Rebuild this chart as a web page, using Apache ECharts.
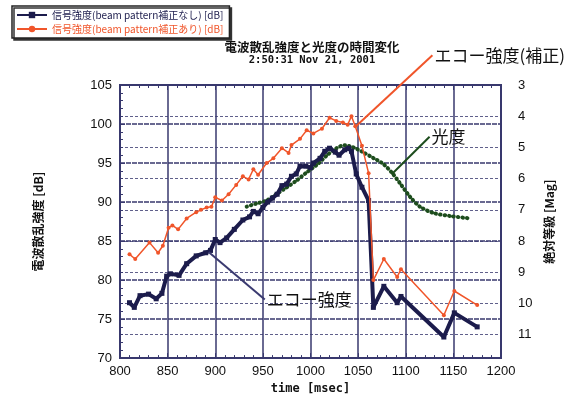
<!DOCTYPE html>
<html>
<head>
<meta charset="utf-8">
<script src="https://cdn.jsdelivr.net/npm/echarts@6/dist/echarts.min.js"></script>
<style>
  html, body {margin: 0; padding: 0; background: #fff;}
  #main {width: 568px; height: 400px;}
</style>
</head>
<body>
<div id="main"></div>
<script>
// 信号強度 (beam pattern補正なし)
const navyTime = [810, 815, 821, 830, 838, 844, 849, 853, 862, 870, 880, 890, 895, 900, 905, 912, 920, 929, 936, 940, 945, 950, 955, 960, 965, 970, 975, 980, 985, 989, 995, 1000, 1003, 1010, 1015, 1020, 1026, 1030, 1036, 1040, 1043, 1048, 1054, 1061, 1066, 1077, 1091, 1095, 1140, 1151, 1175]
const navyDb = [77.1, 76.5, 78.0, 78.2, 77.6, 78.3, 80.5, 80.8, 80.6, 82.1, 83.1, 83.5, 83.8, 85.2, 84.8, 85.4, 86.5, 87.7, 88.1, 88.8, 88.5, 89.3, 90.0, 90.5, 91.0, 92.1, 92.3, 93.3, 93.6, 94.6, 94.6, 94.4, 95.0, 95.6, 96.5, 96.9, 96.4, 96.0, 96.7, 96.9, 96.5, 93.6, 91.9, 90.2, 76.5, 79.2, 77.1, 77.9, 72.7, 75.8, 74.0]

// 信号強度 (beam pattern補正あり)
const redTime = [810, 816, 831, 840, 845, 851, 855, 861, 870, 880, 885, 891, 896, 900, 907, 914, 922, 929, 935, 940, 945, 954, 961, 970, 977, 980, 989, 996, 1003, 1012, 1020, 1027, 1034, 1039, 1043, 1047, 1054, 1061, 1066, 1077, 1091, 1095, 1140, 1151, 1175]
const redDb = [83.3, 82.7, 84.8, 83.5, 84.4, 86.7, 87.0, 86.5, 87.9, 88.7, 89.0, 89.3, 89.4, 90.6, 90.2, 91.0, 92.2, 93.3, 92.9, 94.2, 93.5, 95.0, 95.6, 96.9, 96.3, 97.3, 98.1, 99.2, 98.8, 99.4, 100.8, 100.4, 100.2, 99.9, 101.0, 99.7, 97.2, 93.7, 80.0, 82.7, 80.4, 81.4, 75.5, 78.6, 76.8]

// 光度 (絶対等級)
const magTime = [933, 943, 954, 964, 975, 985, 996, 1007, 1017, 1027, 1036, 1045, 1055, 1066, 1076, 1086, 1094, 1105, 1115, 1129, 1147, 1166]
const magVal = [6.9, 6.8, 6.7, 6.5, 6.28, 6.07, 5.8, 5.55, 5.26, 5.03, 4.93, 5.0, 5.15, 5.34, 5.52, 5.83, 6.15, 6.6, 6.9, 7.1, 7.2, 7.27]

const xTicks = [800, 1200, 50]
const dbTicks = [70, 105, 5]
const magTicks = [3, 11.75, 1]

// annotations: [from, to] in data units
const navyNote = {text: 'エコー強度', from: [893, 83.6], to: [952, 77.5]}
const redNote = {text: 'エコー強度(補正)', from: [1048, 99.75], to: [1128, 108.8]}
const magNote = {text: '光度', from: [1085, 5.87], to: [1125, 4.66]}

const zip = (a, b) => a.map((v, i) => [v, b[i]])
const navy = '#1c1c4c'
const red = '#f0552a'
const green = '#1d4d1d'
const gridColor = '#38386e'

const chart = echarts.init(document.getElementById('main'))

chart.setOption({
  backgroundColor: '#fff',
  animation: false,
  title: {
    text: '電波散乱強度と光度の時間変化',
    subtext: '2:50:31 Nov 21, 2001',
    left: 307,
    top: 36,
    textAlign: 'center',
    itemGap: 1,
    textStyle: {fontFamily: 'Noto Sans CJK JP', fontSize: 12.5, fontWeight: 'bold', color: '#111'},
    subtextStyle: {fontFamily: 'DejaVu Sans Mono', fontSize: 10.5, fontWeight: 'bold', color: '#111'}
  },
  legend: {
    orient: 'vertical',
    left: 12,
    top: 6,
    padding: [4, 6, 4, 4],
    itemGap: 4,
    itemWidth: 30,
    itemHeight: 8,
    borderColor: '#222',
    borderWidth: 1.5,
    backgroundColor: '#fff',
    shadowColor: '#333',
    shadowOffsetX: 2,
    shadowOffsetY: 2,
    textStyle: {fontFamily: 'Noto Sans CJK JP', fontSize: 10},
    data: [
      {name: '信号強度(beam pattern補正なし) [dB]', textStyle: {color: navy}},
      {name: '信号強度(beam pattern補正あり) [dB]', textStyle: {color: red}}
    ]
  },
  grid: {
    left: 120, right: 67, top: 85, bottom: 35,
    show: true,
    borderColor: gridColor,
    borderWidth: 2
  },
  xAxis: [
    {
      type: 'value',
      min: xTicks[0], max: xTicks[1], interval: xTicks[2],
      name: 'time [msec]',
      nameLocation: 'middle',
      nameGap: 22,
      nameTextStyle: {fontFamily: 'DejaVu Sans Mono', fontSize: 12, fontWeight: 'bold', color: '#111'},
      axisLine: {show: false},
      axisTick: {inside: true, length: 5, lineStyle: {color: gridColor}},
      minorTick: {show: true, splitNumber: 5, length: 3, lineStyle: {color: gridColor}},
      axisLabel: {fontFamily: 'Liberation Sans', fontSize: 13, color: '#111', margin: 7, formatter: v => String(v)},
      splitLine: {show: true, lineStyle: {color: gridColor, width: 1.5}}
    },
    {
      type: 'value',
      position: 'top',
      min: xTicks[0], max: xTicks[1], interval: xTicks[2],
      axisLine: {show: false},
      axisTick: {inside: true, length: 5, lineStyle: {color: gridColor}},
      minorTick: {show: true, splitNumber: 5, length: 3, lineStyle: {color: gridColor}},
      axisLabel: {show: false},
      splitLine: {show: false}
    }
  ],
  yAxis: [
    {
      type: 'value',
      min: dbTicks[0], max: dbTicks[1], interval: dbTicks[2],
      name: '電波散乱強度 [dB]',
      nameLocation: 'middle',
      nameRotate: 90,
      nameGap: 76,
      nameTextStyle: {fontFamily: 'Noto Sans CJK JP', fontSize: 12, fontWeight: 'bold', color: '#111'},
      axisLine: {show: false},
      axisTick: {inside: true, length: 5, lineStyle: {color: gridColor}},
      minorTick: {show: true, splitNumber: 5, length: 3, lineStyle: {color: gridColor}},
      axisLabel: {fontFamily: 'Liberation Sans', fontSize: 13, color: '#111', margin: 8},
      splitLine: {show: true, lineStyle: {color: gridColor, width: 1.5, type: [5, 1]}}
    },
    {
      type: 'value',
      inverse: true,
      min: magTicks[0], max: magTicks[1], interval: magTicks[2],
      name: '絶対等級 [Mag]',
      nameLocation: 'middle',
      nameRotate: 90,
      nameGap: 40,
      nameTextStyle: {fontFamily: 'Noto Sans CJK JP', fontSize: 12, fontWeight: 'bold', color: '#111'},
      axisLine: {show: false},
      axisTick: {show: false},
      axisLabel: {
        fontFamily: 'Liberation Sans', fontSize: 13, color: '#111', margin: 17,
        formatter: v => Number.isInteger(v) ? String(v) : ''
      },
      splitLine: {show: true, lineStyle: {color: gridColor, width: 1, type: [3, 2], opacity: 0.8}}
    }
  ],
  series: [
    {
      name: '信号強度(beam pattern補正なし) [dB]',
      type: 'line',
      data: zip(navyTime, navyDb),
      symbol: 'rect',
      symbolSize: 5,
      itemStyle: {color: navy},
      lineStyle: {color: navy, width: 4},
      z: 4
    },
    {
      name: '信号強度(beam pattern補正あり) [dB]',
      type: 'line',
      data: zip(redTime, redDb),
      symbol: 'circle',
      symbolSize: 4,
      itemStyle: {color: red},
      lineStyle: {color: red, width: 1.5},
      z: 5
    },
    {
      name: '光度',
      type: 'line',
      yAxisIndex: 1,
      data: zip(magTime, magVal),
      symbol: 'none',
      smooth: 0.3,
      lineStyle: {color: green, width: 4, type: [0.5, 4], cap: 'round'},
      z: 3
    }
  ]
})

function notes() {
  const els = []
  const add = (note, color, yAxisIndex) => {
    const p0 = chart.convertToPixel({xAxisIndex: 0, yAxisIndex}, note.from)
    const p1 = chart.convertToPixel({xAxisIndex: 0, yAxisIndex}, note.to)
    els.push({
      type: 'line',
      shape: {x1: p0[0], y1: p0[1], x2: p1[0], y2: p1[1]},
      style: {stroke: color, lineWidth: 2},
      z: 10
    })
    els.push({
      type: 'text',
      x: p1[0] + 2,
      y: p1[1],
      style: {
        text: note.text,
        fill: '#111',
        font: '17px "Noto Sans CJK JP"',
        textVerticalAlign: 'middle',
        verticalAlign: 'middle'
      },
      z: 10
    })
  }
  add(navyNote, '#3a3a70', 0)
  add(redNote, red, 0)
  add(magNote, green, 1)
  chart.setOption({graphic: els})
}
notes()
</script>
</body>
</html>
